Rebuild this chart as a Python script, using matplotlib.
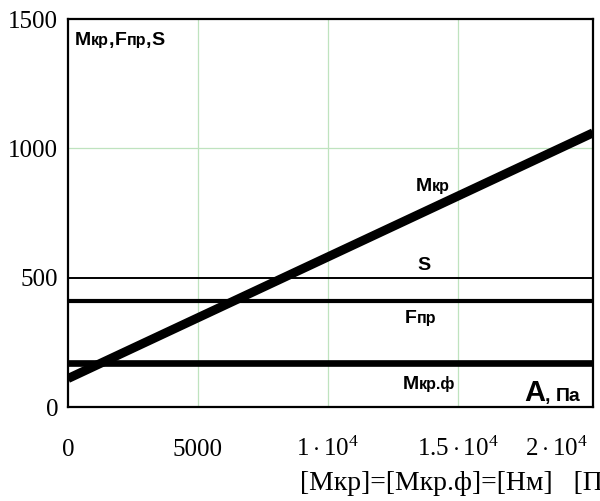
import numpy as np
import matplotlib.pyplot as plt
from matplotlib.transforms import ScaledTranslation

plt.rcParams['mathtext.fontset'] = 'custom'
plt.rcParams['mathtext.rm'] = 'Liberation Serif'
plt.rcParams['mathtext.it'] = 'Liberation Serif'

# data
area = [0, 20200]            # A, Pa
m_kr = [110, 1060]           # Mkr, line
s_level = 500
f_pr = 410
m_kr_f = 170

x_ticks = [0, 5000, 10000, 15000, 20000]
x_tick_labels = ['0', '5000', r'$1\cdot10^{4}$', r'$1.5\cdot10^{4}$', r'$2\cdot10^{4}$']
y_ticks = [0, 500, 1000, 1500]
y_tick_labels = ['0', '500', '1000', '1500']

W, H = 600, 501
fig = plt.figure(figsize=(W / 100, H / 100), dpi=100)
ax = fig.add_axes([68 / W, 1 - 407 / H, (593 - 68) / W, (407 - 19) / H])

ax.set_xlim(0, 20200)
ax.set_ylim(0, 1500)

# green grid
for gx in [5000, 10000, 15000]:
    ax.axvline(gx, color='#bfe3bf', lw=0.9, zorder=0)
ax.axhline(1000, color='#bfe3bf', lw=0.9, zorder=0)

ax.plot(area, m_kr, color='black', lw=6.5, solid_capstyle='butt', zorder=3)
ax.axhline(s_level, color='black', lw=1.4, zorder=2)
ax.axhline(f_pr, color='black', lw=3, zorder=2)
ax.axhline(m_kr_f, color='black', lw=4.8, zorder=2)

for sp in ax.spines.values():
    sp.set_linewidth(1.6)

ax.set_xticks(x_ticks)
ax.set_xticklabels(x_tick_labels, family='Liberation Serif', fontsize=18)
for lbl in ax.get_xticklabels():
    lbl.set_va('baseline')
ax.get_xticklabels()[-1].set_ha('right')
ax.set_yticks(y_ticks)
ax.set_yticklabels(y_tick_labels, family='Liberation Serif', fontsize=18)
shift = ScaledTranslation(0, -4 / 100, fig.dpi_scale_trans)
for lbl in ax.get_yticklabels():
    lbl.set_va('center_baseline')
    lbl.set_transform(lbl.get_transform() + shift)
ax.tick_params(length=0, axis='x', pad=35)
ax.tick_params(length=0, axis='y', pad=7)

renderer = fig.canvas.get_renderer()


def rich(px, py, pieces):
    # draw pieces of text one after another, px/py are picture pixels of the baseline start
    x = px
    for s, fs in pieces:
        t = fig.text(x / W, 1 - py / H, s, family='Liberation Sans', fontweight='bold',
                     fontsize=fs, va='baseline', ha='left')
        bb = t.get_window_extent(renderer)
        x = bb.x1


rich(75, 45, [('M', 14), ('кр', 11.5), (',', 14), ('F', 14), ('пр', 11.5), (',', 14), ('S', 14)])
rich(416, 191, [('M', 14), ('кр', 11.5)])
rich(417, 270, [('S', 14)])
rich(405, 323, [('F', 14), ('пр', 11.5)])
rich(403, 389, [('M', 14), ('кр.ф', 11.5)])
rich(524, 401, [('A', 21), (', ', 14), ('Па', 14)])

fig.text(300 / W, 1 - 490 / H, '[Mкр]=[Mкр.ф]=[Hм]   [Па]', family='Liberation Serif',
         fontsize=20, va='baseline', ha='left')

fig.savefig('out.png', dpi=100)
